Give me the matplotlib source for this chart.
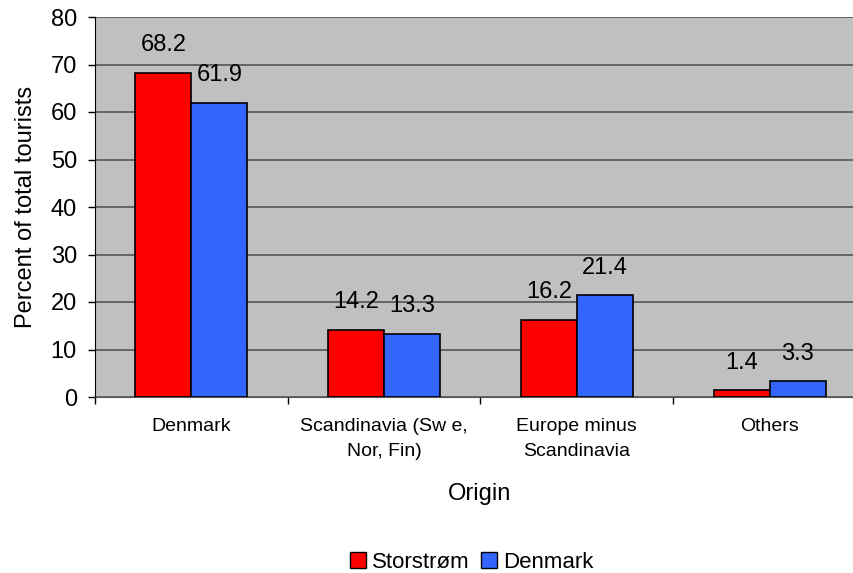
import numpy as np
import matplotlib
matplotlib.use("Agg")
import matplotlib.pyplot as plt
from matplotlib.patches import Patch

plt.rcParams['font.family'] = ['Liberation Sans', 'DejaVu Sans']

# data
categories = ["Denmark", "Scandinavia (Sw e,\nNor, Fin)", "Europe minus\nScandinavia", "Others"]
storstrom = [68.2, 14.2, 16.2, 1.4]
denmark = [61.9, 13.3, 21.4, 3.3]

fig = plt.figure(figsize=(8.54, 5.73), dpi=100)
ax = fig.add_axes([95 / 854, 1 - 397 / 573, 1 - 95 / 854, (397 - 17) / 573])
ax.set_facecolor("#C0C0C0")

x = np.arange(len(categories))
w = 0.29
b1 = ax.bar(x - w / 2, storstrom, w, color="#FF0000", edgecolor="black", linewidth=1.2, zorder=3)
b2 = ax.bar(x + w / 2, denmark, w, color="#3366FF", edgecolor="black", linewidth=1.2, zorder=3)

for bars, vals in [(b1, storstrom), (b2, denmark)]:
    for r, v in zip(bars, vals):
        ax.annotate(f"{v}", (r.get_x() + r.get_width() / 2, v), xytext=(0, 12),
                    textcoords="offset points", ha="center", va="bottom", fontsize=17)

ax.set_ylim(0, 80)
ax.set_yticks(range(0, 81, 10))
ax.yaxis.grid(True, color="#555555", linewidth=1.2, zorder=0)
ax.set_axisbelow(True)
ax.tick_params(axis="y", length=5, width=1, labelsize=17, pad=8)

# plot area runs a bit past the right edge of the image
ax.set_xlim(-0.5, 3.5 - 12 / 193)
ax.set_xticks([-0.5, 0.5, 1.5, 2.5])
ax.set_xticklabels([])
ax.tick_params(axis="x", which="major", length=5, width=1)
ax.set_xticks(x, minor=True)
ax.set_xticklabels(categories, minor=True, fontsize=14, linespacing=1.65)
ax.tick_params(axis="x", which="minor", length=0, pad=15)

for s in ["top", "right"]:
    ax.spines[s].set_visible(False)
ax.spines["left"].set_color("black")
ax.spines["bottom"].set_color("#555555")

ax.set_ylabel("Percent of total tourists", fontsize=17, labelpad=10)
fig.text(480 / 854, 1 - 494 / 573, "Origin", ha="center", va="center", fontsize=17)

handles = [Patch(facecolor="#FF0000", edgecolor="black", label="Storstrøm"),
           Patch(facecolor="#3366FF", edgecolor="black", label="Denmark")]
fig.legend(handles=handles, loc="center", bbox_to_anchor=(472 / 854, 1 - 562 / 573),
           ncol=2, frameon=False, fontsize=16, handlelength=0.7, handleheight=0.7,
           handletextpad=0.3, columnspacing=0.5)

fig.savefig("out.png", dpi=100)
